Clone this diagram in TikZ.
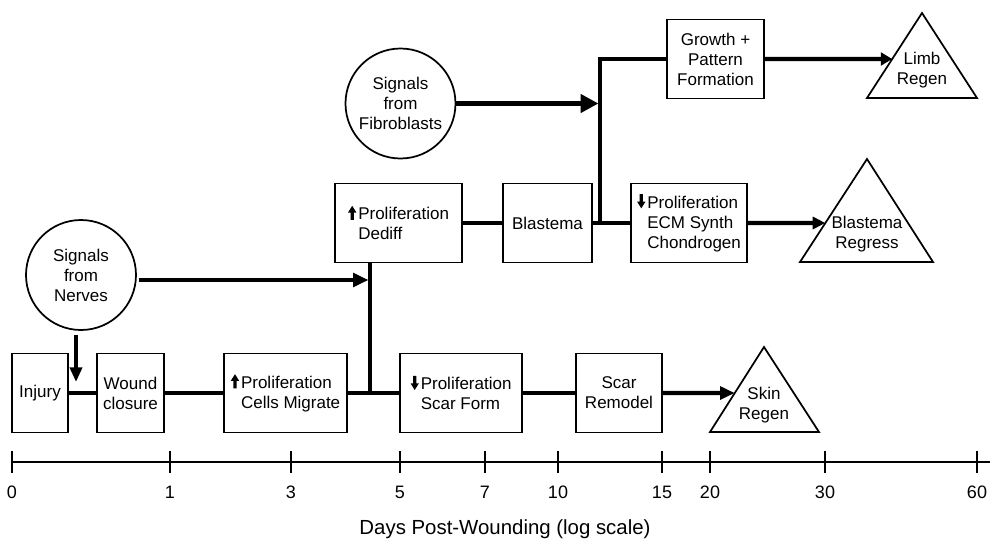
\documentclass[tikz,border=0pt]{standalone}
\usepackage{fontspec}
\setmainfont{Liberation Sans}
\usetikzlibrary{arrows.meta,calc}

\newcommand{\UpIcon}{\tikz[baseline=0pt,x=1pt,y=1pt]\fill (1.9,0) -- (4.4,0) -- (4.4,5.6) -- (6.3,5.6) -- (3.15,10.6) -- (0,5.6) -- (1.9,5.6) -- cycle;\hspace{1.4pt}}
\newcommand{\DownIcon}{\tikz[baseline=0pt,x=1pt,y=1pt]\fill (3.15,0) -- (6.3,5) -- (4.4,5) -- (4.4,10.6) -- (1.9,10.6) -- (1.9,5) -- (0,5) -- cycle;\hspace{1.4pt}}
\newcommand{\IconGap}{\hspace*{7.7pt}}
\newcommand{\BoxFont}{\fontsize{12.75pt}{15pt}\selectfont}

\begin{document}
\begin{tikzpicture}[x=0.75pt,y=-0.75pt,
  box/.style={draw,line width=1.3pt,minimum height=59.25pt,inner sep=0pt,align=center,font=\BoxFont},
  sig/.style={draw,circle,line width=1.3pt,minimum size=82.5pt,inner sep=0pt,align=center,font=\BoxFont},
  lbl/.style={inner sep=0pt,align=center,font=\BoxFont},
  tri/.style={draw,line width=1.3pt,line join=miter},
  conn/.style={line width=3.2pt,line join=miter},
  axisline/.style={line width=1.5pt},
  ticklbl/.style={inner sep=0pt,font=\fontsize{13.5pt}{15pt}\selectfont},
]
\useasboundingbox (0,0) rectangle (990,540);

% bottom row
\node[box,minimum width=42pt] (injury) at (40,393) {Injury};
\node[box,minimum width=50.25pt] (wound) at (130.5,393) {Wound\\closure};
\node[box,minimum width=92.25pt,align=left] (migrate) at (285.5,393) {\UpIcon Proliferation\\\IconGap Cells Migrate};
\node[box,minimum width=91.5pt,align=left] (scarform) at (461,393) {\DownIcon Proliferation\\\IconGap Scar Form};
\node[box,minimum width=64.5pt] (scarrem) at (619,393) {Scar\\Remodel};

% middle row
\node[box,minimum width=95.25pt,align=left] (dediff) at (398.5,223) {\UpIcon Proliferation\\\IconGap Dediff};
\node[box,minimum width=66.75pt] (blastema) at (547.5,223) {Blastema};
\node[box,minimum width=87pt,align=left] (ecm) at (689,223) {\DownIcon Proliferation\\\IconGap ECM Synth\\\IconGap Chondrogen};

% top row
\node[box,minimum width=72.75pt] (growth) at (715.5,59) {Growth +\\Pattern\\Formation};

% signal circles
\node[sig] (nerves) at (81,275) {Signals\\from\\Nerves};
\node[sig] (fibro) at (400.5,103.5) {Signals\\from\\Fibroblasts};

% triangles
\coordinate (skinA) at (764,347);
\coordinate (skinL) at (710,432);
\coordinate (skinR) at (819,432);
\draw[tri] (skinL) -- (skinA) -- (skinR) -- cycle;
\node[lbl] (skin) at (764,405) {Skin\\Regen};

\coordinate (limbA) at (922,13);
\coordinate (limbL) at (867,98);
\coordinate (limbR) at (977,98);
\draw[tri] (limbL) -- (limbA) -- (limbR) -- cycle;
\node[lbl] (limb) at (922,70) {Limb\\Regen};

\coordinate (regA) at (867,159);
\coordinate (regL) at (800,262);
\coordinate (regR) at (933,262);
\draw[tri] (regL) -- (regA) -- (regR) -- cycle;
\node[lbl] (regress) at (867,234) {Blastema\\Regress};

% connectors bottom row
\draw[conn] (injury) -- (wound);
\draw[conn] (wound) -- (migrate);
\draw[conn] (migrate) -- (scarform);
\draw[conn] (scarform) -- (scarrem);
\coordinate (skinin) at ($(skinL)!0.4588!(skinA)$);
\draw[conn,-{Triangle[length=11pt,width=9.5pt]}] (scarrem) -- (skinin);

% connectors middle row
\draw[conn] (dediff) -- (blastema);
\draw[conn] (blastema) -- (ecm);
\coordinate (regin) at ($(regL)!0.3786!(regA)$);
\draw[conn,-{Triangle[length=9.5pt,width=9pt]}] (ecm) -- (regin);

% branch to growth
\coordinate (junc) at (600,223);
\draw[conn] (junc) |- (growth);
\coordinate (limbin) at ($(limbL)!0.4588!(limbA)$);
\draw[conn,-{Triangle[length=8.5pt,width=9.5pt]}] (growth) -- (limbin);

% fibroblast signal
\coordinate (fibtip) at (598.5,103.5);
\draw[line width=4.2pt,-{Triangle[length=13.5pt,width=13.5pt]}] (fibro) -- (fibtip);

% dediff down to main line
\coordinate (jmain) at (370,393);
\draw[conn] (dediff.south -| jmain) -- (jmain);

% nerve signals
\coordinate (nervetip) at (368.5,280);
\draw[line width=3.6pt,-{Triangle[length=11.5pt,width=10pt]}] ([xshift=1.5pt]nerves.east |- nervetip) -- (nervetip);
\coordinate (injtip) at (76,382);
\draw[conn,-{Triangle[length=11pt,width=9pt]}] ([xshift=-3.75pt,yshift=-3pt]nerves.south) -- (injtip);

% time axis
\coordinate (axstart) at (12,462);
\coordinate (axend) at (990,462);
\draw[axisline] (axstart) -- (axend);
\foreach \xx/\lab/\nm in {12/0/ta,170/1/tb,291/3/tc,400/5/td,485/7/te,558/10/tf,662/15/tg,710/20/th,825/30/ti,977/60/tj}{
  \draw[axisline] (\xx,451) -- (\xx,473);
  \node[ticklbl] (\nm) at (\xx,492) {\lab};
}
\node[inner sep=0pt,font=\fontsize{15.3pt}{17pt}\selectfont] (axtitle) at (505,529) {Days Post-Wounding (log scale)};
\end{tikzpicture}
\end{document}
